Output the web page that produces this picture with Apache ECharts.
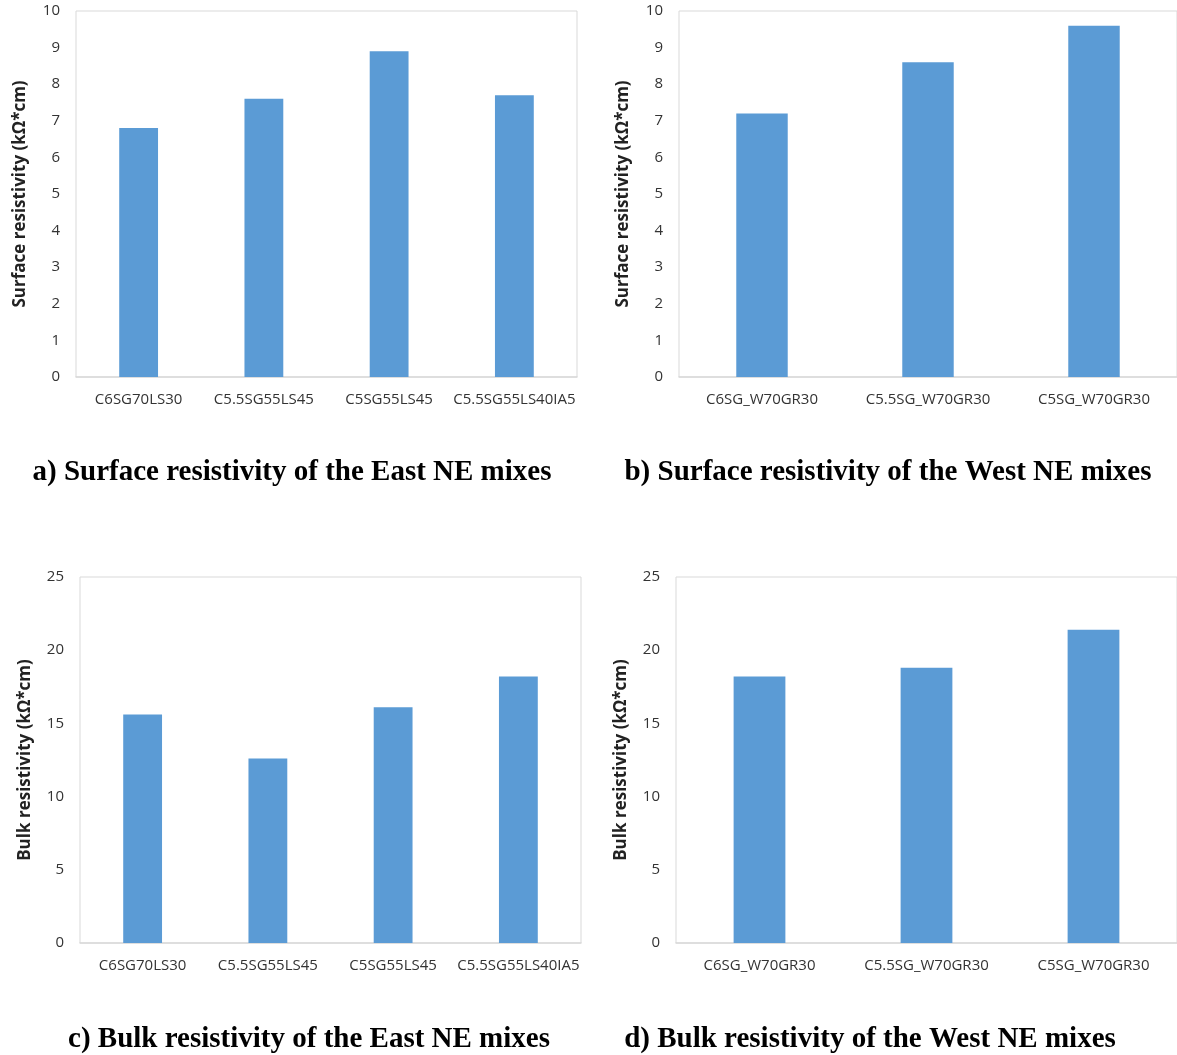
<!DOCTYPE html>
<html><head><meta charset="utf-8">
<script src="https://cdn.jsdelivr.net/npm/echarts@6/dist/echarts.min.js"></script>
<style>html,body{margin:0;padding:0;background:#fff}#c{width:1177px;height:1055px}</style>
</head><body><div id="c"></div>
<script>
const eastCats = ['C6SG70LS30','C5.5SG55LS45','C5SG55LS45','C5.5SG55LS40IA5'];
const westCats = ['C6SG_W70GR30','C5.5SG_W70GR30','C5SG_W70GR30'];
const surfEast = [6.8, 7.6, 8.9, 7.7];
const surfWest = [7.2, 8.6, 9.6];
const bulkEast = [15.6, 12.6, 16.1, 18.2];
const bulkWest = [18.2, 18.8, 21.4];
const surfTicks = [0,1,2,3,4,5,6,7,8,9,10];
const bulkTicks = [0,5,10,15,20,25];
const captions = ['a) Surface resistivity of the East NE mixes','b) Surface resistivity of the West NE mixes','c) Bulk resistivity of the East NE mixes','d) Bulk resistivity of the West NE mixes'];
const surfName = 'Surface resistivity (kΩ*cm)';
const bulkName = 'Bulk resistivity (kΩ*cm)';

const font = 'Open Sans';
const grids = [
  {left:76, top:11, width:501, height:366},
  {left:679, top:11, width:502, height:366},
  {left:80, top:577, width:501, height:366},
  {left:676, top:577, width:502, height:366}
];
const panels = [
  {cats:eastCats, vals:surfEast, max:10, interval:1, name:surfName, ticks:surfTicks, gap:47},
  {cats:westCats, vals:surfWest, max:10, interval:1, name:surfName, ticks:surfTicks, gap:47},
  {cats:eastCats, vals:bulkEast, max:25, interval:5, name:bulkName, ticks:bulkTicks, gap:46},
  {cats:westCats, vals:bulkWest, max:25, interval:5, name:bulkName, ticks:bulkTicks, gap:46}
];
const capPos = [[287,453],[883,453],[304,1020],[865,1020]];

const option = {
  animation:false,
  backgroundColor:'#fff',
  title: captions.map((t,i)=>({text:t, left:capPos[i][0], top:capPos[i][1], textAlign:'center',
    textStyle:{fontFamily:'Liberation Serif', fontWeight:'bold', fontSize:29, color:'#000'}})),
  grid: grids.map(g=>Object.assign({show:true, borderColor:'#d9d9d9', borderWidth:1, backgroundColor:'transparent'}, g)),
  xAxis: panels.map((p,i)=>({type:'category', gridIndex:i, data:p.cats,
    axisLine:{lineStyle:{color:'#d9d9d9', width:1.5}}, axisTick:{show:false},
    axisLabel:{color:'#333', fontFamily:font, fontSize:15, margin:15, interval:0}})),
  yAxis: panels.map((p,i)=>({type:'value', gridIndex:i, min:0, max:p.max, interval:p.interval,
    name:p.name, nameLocation:'middle', nameGap:p.gap,
    nameTextStyle:{fontFamily:font, fontWeight:'bold', fontSize:17, color:'#222'},
    axisLine:{show:false}, axisTick:{show:false}, splitLine:{show:false},
    axisLabel:{color:'#333', fontFamily:font, fontSize:15, margin:16}})),
  series: panels.map((p,i)=>({type:'bar', xAxisIndex:i, yAxisIndex:i, data:p.vals, barWidth:'31%',
    itemStyle:{color:'#5b9bd5'}}))
};
const chart = echarts.init(document.getElementById('c'), null, {renderer:'canvas'});
chart.setOption(option);
</script></body></html>
